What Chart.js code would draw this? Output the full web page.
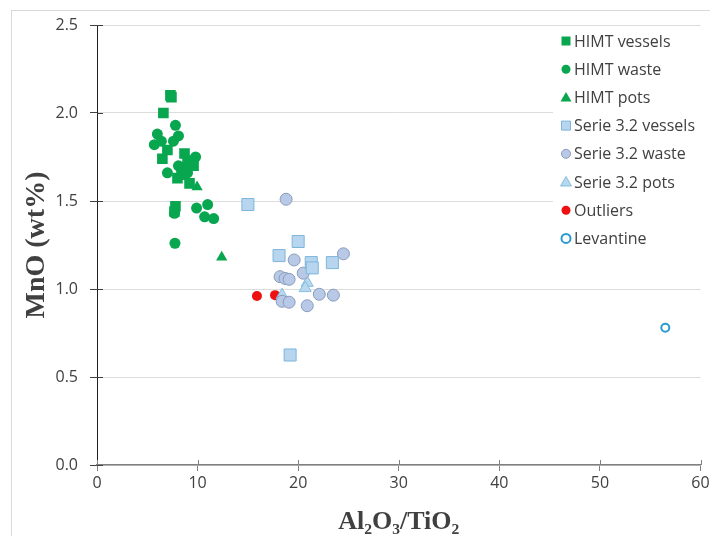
<!DOCTYPE html>
<html>
<head>
<meta charset="utf-8">
<script src="https://cdn.jsdelivr.net/npm/chart.js@4"></script>
<style>
  html, body { margin: 0; padding: 0; background: #fff; }
  #wrap { position: relative; width: 710px; height: 536px; }
  #frame { position: absolute; left: 11px; top: 10px; width: 720px; height: 540px;
           border-left: 1px solid #d9d9d9; border-top: 1px solid #d9d9d9; }
  canvas { position: absolute; left: 0; top: 0; }
</style>
</head>
<body>
<div id="wrap">
  <div id="frame"></div>
  <canvas id="myChart" width="710" height="536"></canvas>
</div>
<script>
const himtVessels = [
  [7.3, 2.10], [7.4, 2.09], [6.6, 2.00], [6.5, 1.74], [7.0, 1.79], [8.7, 1.77],
  [9.0, 1.72], [8.0, 1.63], [9.2, 1.60], [9.6, 1.70], [7.8, 1.47], [7.7, 1.44], [8.4, 1.65]
]
const himtWaste = [
  [6.0, 1.88], [5.7, 1.82], [6.4, 1.84], [7.8, 1.93], [8.1, 1.87], [7.6, 1.84],
  [7.0, 1.66], [8.1, 1.70], [8.5, 1.69], [9.2, 1.73], [9.8, 1.75], [9.0, 1.66],
  [8.8, 1.68], [9.9, 1.46], [11.0, 1.48], [10.7, 1.41], [11.6, 1.40], [7.7, 1.43], [7.75, 1.26]
]
const himtPots = [[9.95, 1.58], [12.4, 1.18]]
const serieVessels = [
  [15.0, 1.48], [20.0, 1.27], [18.1, 1.19], [21.3, 1.15], [21.4, 1.12], [23.4, 1.15], [19.2, 0.625]
]
const serieWaste = [
  [18.8, 1.51], [24.5, 1.20], [19.6, 1.165], [20.5, 1.09], [18.2, 1.07], [18.7, 1.06],
  [19.1, 1.055], [22.1, 0.97], [23.5, 0.965], [18.4, 0.93], [19.1, 0.925], [20.9, 0.905]
]
const seriePots = [[20.9, 1.035], [20.7, 1.005], [18.4, 0.965]]
const outliers = [[15.9, 0.96], [17.7, 0.965]]
const levantine = [[56.5, 0.78]]

const xTicks = [0, 10, 20, 30, 40, 50, 60]
const yTicks = [0, 0.5, 1.0, 1.5, 2.0, 2.5]

const green = '#07a64f'
const toXY = arr => arr.map(p => ({ x: p[0], y: p[1] }))

const series = [
  { label: 'HIMT vessels', data: himtVessels, style: 'rect', r: 7.5, fill: green, stroke: green, bw: 0 },
  { label: 'HIMT waste', data: himtWaste, style: 'circle', r: 5.5, fill: green, stroke: green, bw: 0 },
  { label: 'HIMT pots', data: himtPots, style: 'triangle', r: 6.5, fill: green, stroke: green, bw: 0 },
  { label: 'Serie 3.2 vessels', data: serieVessels, style: 'rect', r: 8.5, fill: '#b7d5ee', stroke: '#7db6da', bw: 1 },
  { label: 'Serie 3.2 waste', data: serieWaste, style: 'circle', r: 6, fill: '#b8c9e8', stroke: '#8a9cb8', bw: 1 },
  { label: 'Serie 3.2 pots', data: seriePots, style: 'triangle', r: 7, fill: '#b7d8ee', stroke: '#86bfdf', bw: 1 },
  { label: 'Outliers', data: outliers, style: 'circle', r: 5, fill: '#ee1111', stroke: '#ee1111', bw: 0 },
  { label: 'Levantine', data: levantine, style: 'circle', r: 4, fill: '#ffffff', stroke: '#2a9ad0', bw: 2 }
]

// legend drawn inside the plot, over a white box
const legendBox = {
  id: 'legendBox',
  afterDraw(chart) {
    const ctx = chart.ctx
    ctx.save()
    ctx.fillStyle = '#fff'
    ctx.fillRect(553, 28, 155, 224)
    ctx.font = '16px "Open Sans"'
    ctx.textBaseline = 'middle'
    series.forEach((s, i) => {
      const y = 41 + i * 28.2
      const x = 566
      ctx.fillStyle = s.fill
      ctx.strokeStyle = s.stroke
      ctx.lineWidth = s.bw
      ctx.beginPath()
      if (s.style === 'rect') {
        ctx.rect(x - 4.5, y - 4.5, 9, 9)
      } else if (s.style === 'circle') {
        ctx.arc(x, y, 4.5, 0, Math.PI * 2)
      } else {
        ctx.moveTo(x, y - 5.5)
        ctx.lineTo(x + 5.5, y + 4)
        ctx.lineTo(x - 5.5, y + 4)
        ctx.closePath()
      }
      ctx.fill()
      if (s.bw) ctx.stroke()
      ctx.fillStyle = '#404040'
      ctx.fillText(s.label, 574, y + 1)
    })
    ctx.restore()
  }
}

// inner halves of the crossing tick marks
const innerTicks = {
  id: 'innerTicks',
  afterDatasetsDraw(chart) {
    const { ctx, scales: { x, y } } = chart
    ctx.save()
    ctx.lineWidth = 1
    ctx.strokeStyle = '#404040'
    yTicks.forEach(v => {
      const py = Math.round(y.getPixelForValue(v)) + 0.5
      ctx.beginPath(); ctx.moveTo(x.left, py); ctx.lineTo(x.left + 6, py); ctx.stroke()
    })
    ctx.strokeStyle = '#808080'
    xTicks.forEach(v => {
      const px = Math.round(x.getPixelForValue(v)) + 0.5
      ctx.beginPath(); ctx.moveTo(px, y.bottom); ctx.lineTo(px, y.bottom - 5); ctx.stroke()
    })
    ctx.restore()
  }
}

new Chart(document.getElementById('myChart'), {
  type: 'scatter',
  data: {
    datasets: series.map(s => ({
      label: s.label,
      data: toXY(s.data),
      pointStyle: s.style,
      pointRadius: s.r,
      pointHoverRadius: s.r,
      backgroundColor: s.fill,
      borderColor: s.stroke,
      borderWidth: s.bw
    }))
  },
  options: {
    responsive: false,
    animation: false,
    layout: { padding: { left: 10, top: 25, right: 9, bottom: 0 } },
    plugins: { legend: { display: false }, tooltip: { enabled: false } },
    scales: {
      x: {
        type: 'linear', min: 0, max: 60,
        afterBuildTicks: s => { s.ticks = xTicks.map(v => ({ value: v })) },
        afterFit: s => { s.height = 71; s.paddingRight = 0 },
        grid: { drawOnChartArea: false, tickLength: 6, tickColor: '#808080' },
        border: { color: '#808080', width: 1.5 },
        ticks: { padding: 3, color: '#404040', font: { family: 'Open Sans', size: 16 } },
        title: {
          display: true, text: 'Al₂O₃/TiO₂', color: '#404040',
          font: { family: 'Liberation Serif', size: 26, weight: 'bold' },
          padding: { top: 0, bottom: -2 }
        }
      },
      y: {
        min: 0, max: 2.5,
        afterBuildTicks: s => { s.ticks = yTicks.map(v => ({ value: v })) },
        afterFit: s => { s.width = 87 },
        grid: { color: '#dcdcdc', tickLength: 7, tickColor: '#404040' },
        border: { color: '#202020', width: 1 },
        ticks: {
          padding: 12, color: '#404040', font: { family: 'Open Sans', size: 16 },
          callback: v => Number(v).toFixed(1)
        },
        title: {
          display: true, text: 'MnO (wt%)', color: '#404040',
          font: { family: 'Liberation Serif', size: 28, weight: 'bold' },
          padding: { top: 10, bottom: 0 }
        }
      }
    }
  },
  plugins: [innerTicks, legendBox]
})
</script>
</body>
</html>
